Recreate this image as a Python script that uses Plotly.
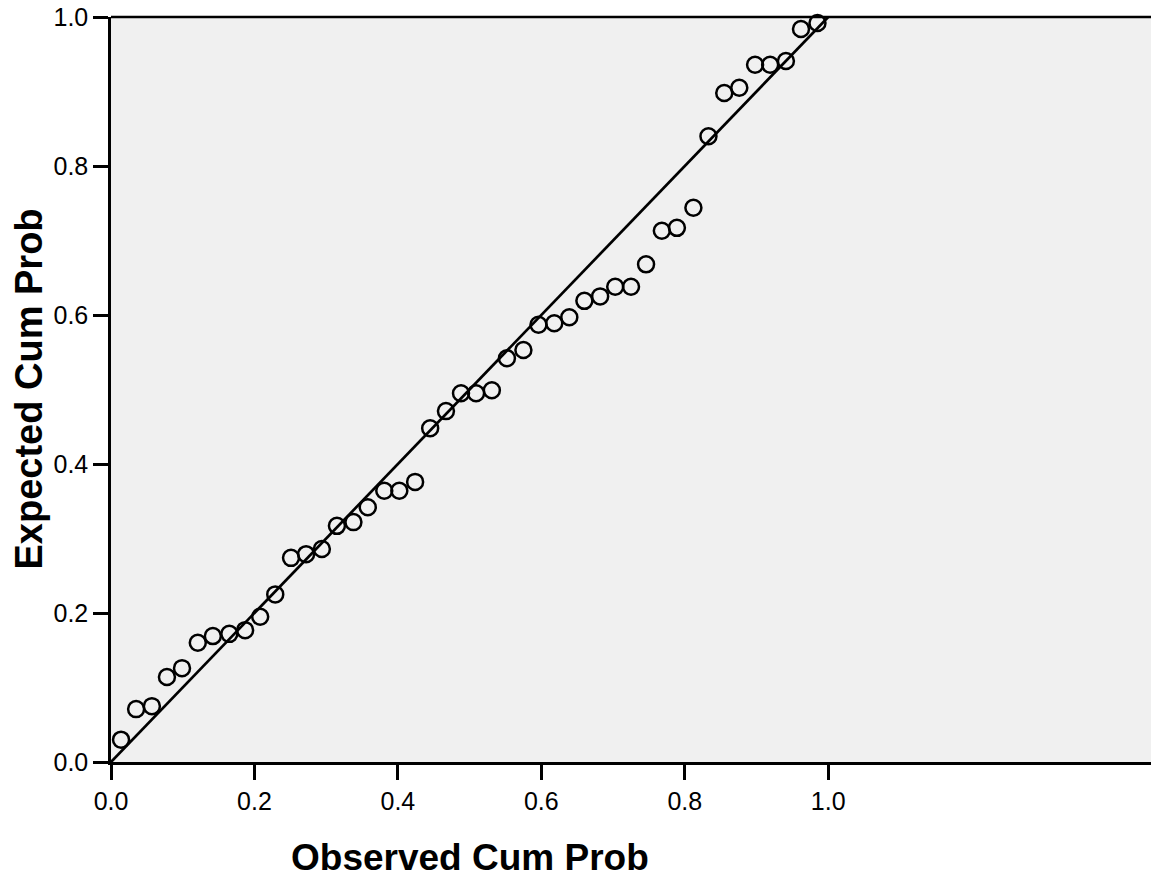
import plotly.graph_objects as go

# Observed cumulative probabilities (x) and expected cumulative probabilities (y)
observed = [0.014, 0.035, 0.057, 0.078, 0.099, 0.121, 0.142, 0.165, 0.187, 0.208,
            0.229, 0.251, 0.272, 0.294, 0.315, 0.338, 0.358, 0.381, 0.402, 0.424,
            0.445, 0.467, 0.488, 0.509, 0.531, 0.552, 0.575, 0.596, 0.618, 0.639,
            0.660, 0.682, 0.703, 0.725, 0.746, 0.768, 0.789, 0.812, 0.833, 0.855,
            0.876, 0.898, 0.919, 0.941, 0.962, 0.985]
expected = [0.030, 0.071, 0.075, 0.114, 0.126, 0.160, 0.169, 0.172, 0.177, 0.195,
            0.225, 0.274, 0.279, 0.286, 0.317, 0.322, 0.342, 0.364, 0.364, 0.376,
            0.448, 0.471, 0.495, 0.495, 0.499, 0.542, 0.553, 0.587, 0.589, 0.597,
            0.619, 0.625, 0.638, 0.638, 0.668, 0.713, 0.717, 0.744, 0.840, 0.898,
            0.905, 0.936, 0.936, 0.941, 0.984, 0.992]

ref_line_x = [0.0, 1.0]
ref_line_y = [0.0, 1.0]

tick_vals = [0.0, 0.2, 0.4, 0.6, 0.8, 1.0]
tick_text = ["0.0", "0.2", "0.4", "0.6", "0.8", "1.0"]

x_title = "Observed Cum Prob"
y_title = "Expected Cum Prob"

FONT = "Liberation Sans, Arial, sans-serif"

fig = go.Figure()
fig.add_trace(go.Scatter(
    x=ref_line_x, y=ref_line_y, mode="lines",
    line=dict(color="black", width=2.7), hoverinfo="skip", showlegend=False,
))
fig.add_trace(go.Scatter(
    x=observed, y=expected, mode="markers",
    marker=dict(symbol="circle-open", size=16, color="black",
                line=dict(width=2.5, color="black")),
    cliponaxis=False, showlegend=False,
))

fig.update_layout(
    width=1151, height=877,
    margin=dict(l=111, r=0, t=17, b=115),
    paper_bgcolor="white", plot_bgcolor="#f0f0f0",
    font=dict(family=FONT, size=25, color="black"),
    xaxis=dict(range=[0, 1.45], tickvals=tick_vals, ticktext=tick_text,
               showgrid=False, zeroline=False, showline=True, linecolor="black",
               linewidth=2.5, ticks="outside", ticklen=15, tickwidth=2.5,
               tickcolor="black", tickfont=dict(size=25, family=FONT)),
    yaxis=dict(range=[0, 1.0], tickvals=tick_vals, ticktext=tick_text,
               showgrid=False, zeroline=False, showline=True, linecolor="black",
               linewidth=2.5, ticks="outside", ticklen=15, tickwidth=2.5,
               tickcolor="black", tickfont=dict(size=25, family=FONT)),
    shapes=[dict(type="line", xref="paper", yref="paper", x0=0, x1=1, y0=1, y1=1,
                 line=dict(color="black", width=2.5))],
    annotations=[
        dict(text="<b>" + x_title + "</b>", xref="x", yref="paper", x=0.5, y=0,
             yshift=-95, xanchor="center", yanchor="middle", showarrow=False,
             font=dict(size=37, family=FONT, color="black")),
        dict(text="<b>" + y_title + "</b>", xref="paper", yref="paper", x=0, y=0.5,
             xshift=-83, xanchor="center", yanchor="middle", textangle=-90,
             showarrow=False, font=dict(size=38, family=FONT, color="black")),
    ],
)

fig.write_html("out.html", config={"displayModeBar": False},
               post_script="document.body.style.margin='0';document.body.style.overflow='hidden';")
